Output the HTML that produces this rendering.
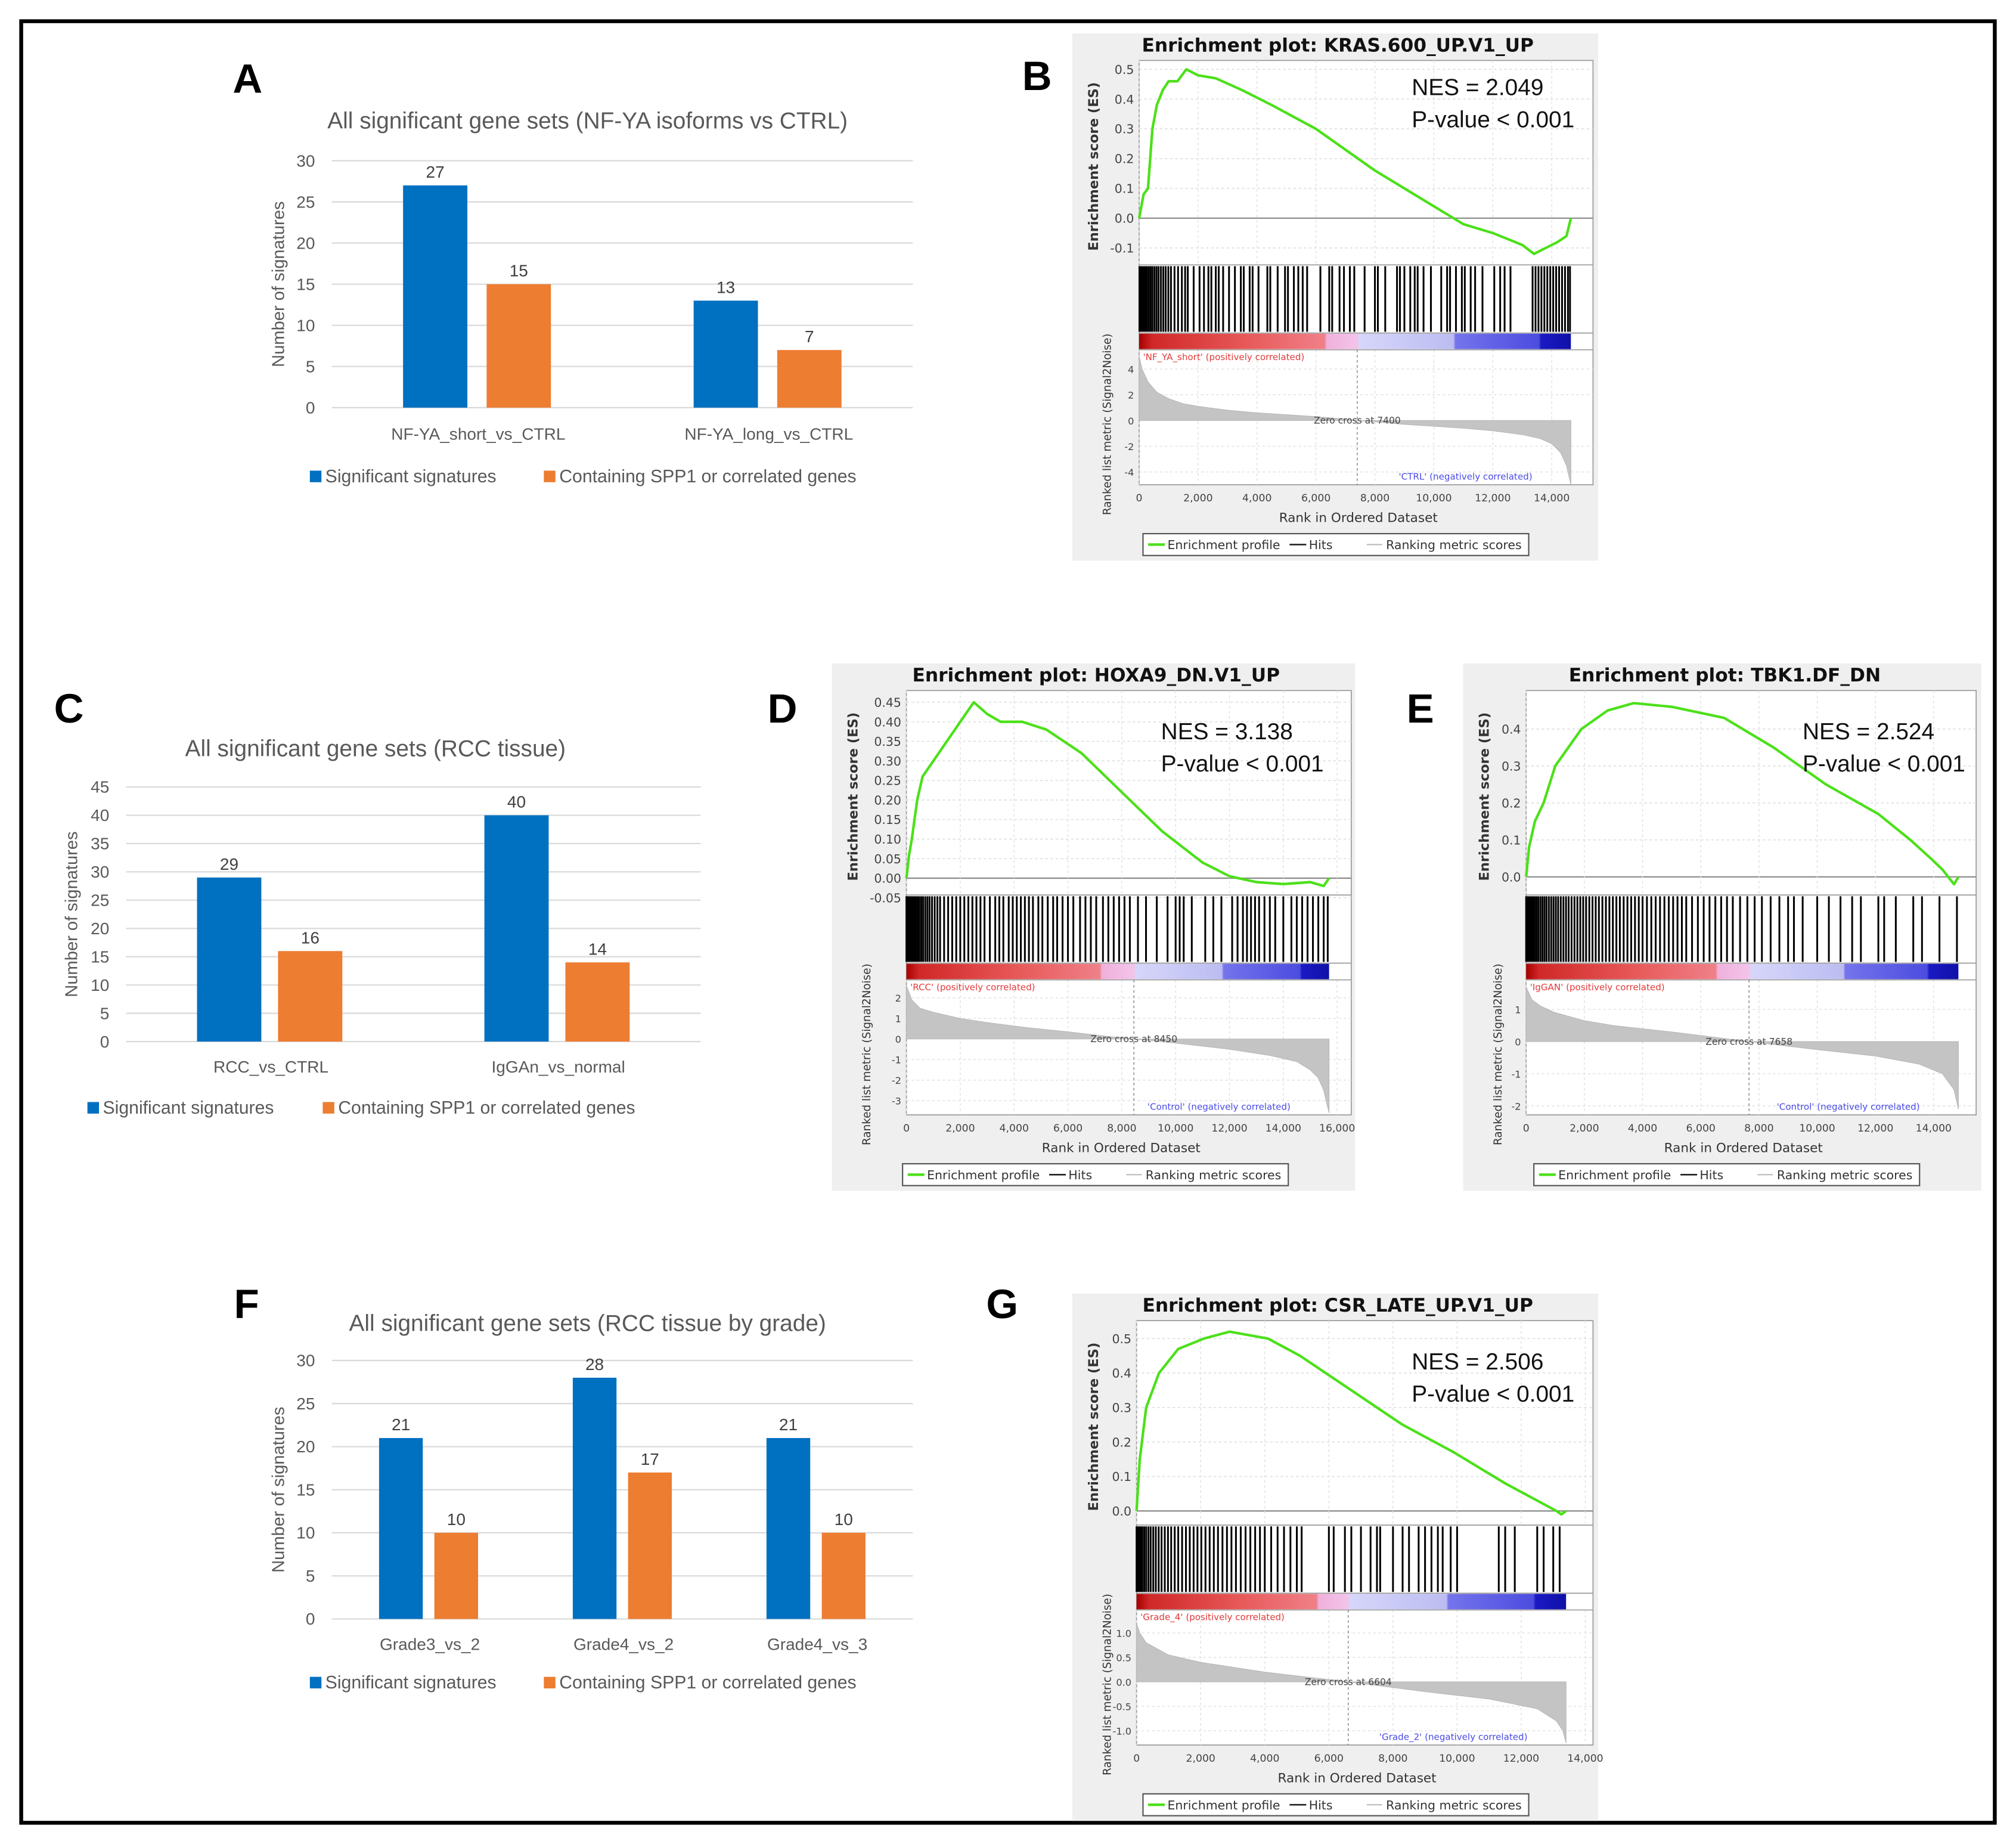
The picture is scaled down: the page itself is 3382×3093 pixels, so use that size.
<!DOCTYPE html>
<html><head><meta charset="utf-8"><style>html,body{margin:0;padding:0;background:#fff}svg{display:block}</style></head>
<body>
<svg id="fig" width="3382" height="3093" viewBox="0 0 1568 1434" preserveAspectRatio="none" xmlns="http://www.w3.org/2000/svg" font-family="'Liberation Sans', 'DejaVu Sans', sans-serif">
<rect x="0" y="0" width="1568" height="1434" fill="#fff"/>
<rect x="16.5" y="16.5" width="1535" height="1401" fill="none" stroke="#000" stroke-width="3"/>
</svg>
<script>
// ---------- Bar chart data ----------
const aCategories = ['NF-YA_short_vs_CTRL', 'NF-YA_long_vs_CTRL'];
const aSignificant = [27, 13];
const aSpp1 = [15, 7];
const aTicks = [0, 5, 10, 15, 20, 25, 30];
const cCategories = ['RCC_vs_CTRL', 'IgGAn_vs_normal'];
const cSignificant = [29, 40];
const cSpp1 = [16, 14];
const cTicks = [0, 5, 10, 15, 20, 25, 30, 35, 40, 45];
const fCategories = ['Grade3_vs_2', 'Grade4_vs_2', 'Grade4_vs_3'];
const fSignificant = [21, 28, 21];
const fSpp1 = [10, 17, 10];
const fTicks = [0, 5, 10, 15, 20, 25, 30];

// ---------- GSEA data ----------
const bEsRanks = [0,150,300,450,600,800,1000,1300,1600,2000,2600,3500,4500,6000,8000,10000,11000,12000,13000,13400,13800,14200,14500,14650];
const bEsValues = [0,0.08,0.1,0.3,0.38,0.43,0.46,0.46,0.5,0.48,0.47,0.43,0.38,0.3,0.16,0.04,-0.02,-0.05,-0.09,-0.12,-0.1,-0.08,-0.06,0];
const bHits = [10,40,80,120,170,220,270,330,390,450,520,590,660,740,820,900,990,1080,1200,1320,1450,1560,1650,1850,2050,2200,2350,2450,2600,2700,2850,3050,3250,3450,3550,3750,3850,4050,4350,4450,4700,4950,5050,5250,5400,5550,5700,6150,6450,6550,6800,6950,7150,7300,7650,8000,8100,8350,8750,8850,9000,9200,9350,9450,9650,9900,10250,10450,10550,10750,10950,11050,11250,11400,11650,12050,12250,12400,12600,13350,13450,13550,13650,13750,13850,13950,14050,14150,14250,14350,14450,14550,14620];
const bMetricRanks = [0,100,300,600,1000,1500,2000,3000,4000,5000,6000,7000,7400,8000,9000,10000,11000,12000,13000,13600,14000,14300,14500,14650];
const bMetricValues = [5,4,3,2.2,1.7,1.3,1.1,0.8,0.6,0.45,0.3,0.1,0,-0.1,-0.3,-0.45,-0.6,-0.8,-1.1,-1.4,-1.8,-2.5,-3.5,-5];
const bEsTicks = [-0.1,0,0.1,0.2,0.3,0.4,0.5];
const bMetricTicks = [-4,-2,0,2,4];
const bRankTicks = [0,2000,4000,6000,8000,10000,12000,14000];

const dEsRanks = [0,100,200,400,600,800,1200,1800,2200,2500,3000,3500,4300,5200,6500,8000,9500,11000,12000,13000,14000,15000,15500,15700];
const dEsValues = [0,0.06,0.1,0.2,0.26,0.28,0.32,0.38,0.42,0.45,0.42,0.4,0.4,0.38,0.32,0.22,0.12,0.04,0.005,-0.01,-0.015,-0.01,-0.02,0];
const dHits = [0,30,70,110,150,200,250,300,360,420,480,550,620,700,780,860,950,1050,1150,1250,1400,1550,1700,1850,2000,2150,2300,2450,2600,2750,2900,3100,3300,3450,3600,3800,3950,4100,4250,4400,4550,4700,4900,5050,5250,5450,5600,5800,6000,6200,6450,6650,6850,7050,7300,7500,7700,7900,8100,8300,8600,8900,9300,9700,10000,10150,10300,10600,11100,11400,11700,12100,12300,12500,12650,12800,12950,13100,13300,13500,13700,14000,14300,14500,14700,14900,15100,15300,15500,15650];
const dMetricRanks = [0,200,500,1000,2000,3000,4500,6000,7500,8450,10000,12000,13500,14500,15000,15300,15500,15700];
const dMetricValues = [2.6,1.9,1.5,1.3,1.0,0.8,0.55,0.35,0.12,0,-0.2,-0.5,-0.8,-1.1,-1.5,-1.9,-2.5,-3.6];
const dEsTicks = [-0.05,0,0.05,0.1,0.15,0.2,0.25,0.3,0.35,0.4,0.45];
const dMetricTicks = [-3,-2,-1,0,1,2];
const dRankTicks = [0,2000,4000,6000,8000,10000,12000,14000,16000];

const eEsRanks = [0,100,300,600,1000,1900,2800,3700,5000,6800,8500,10300,12100,13200,13900,14300,14500,14700,14850];
const eEsValues = [0,0.08,0.15,0.2,0.3,0.4,0.45,0.47,0.46,0.43,0.35,0.25,0.17,0.1,0.05,0.02,0,-0.02,0];
const eHits = [0,40,80,130,180,240,300,360,420,490,560,630,700,780,860,940,1020,1100,1190,1280,1370,1460,1560,1660,1760,1860,1960,2060,2170,2280,2390,2500,2620,2740,2860,2980,3100,3220,3350,3480,3610,3740,3870,4000,4150,4300,4450,4600,4750,4900,5050,5200,5350,5500,5700,5900,6100,6300,6500,6700,6900,7100,7350,7600,7850,8100,8400,8700,9000,9200,9500,10000,10400,10800,11200,11500,12100,12300,12700,13300,13600,14200,14800];
const eMetricRanks = [0,200,500,1000,2000,3000,5000,7658,10000,12000,13500,14300,14700,14850];
const eMetricValues = [1.7,1.3,1.1,0.9,0.65,0.5,0.3,0,-0.25,-0.45,-0.7,-1,-1.5,-2.1];
const eEsTicks = [0,0.1,0.2,0.3,0.4];
const eMetricTicks = [-2,-1,0,1];
const eRankTicks = [0,2000,4000,6000,8000,10000,12000,14000];

const gEsRanks = [0,100,300,700,1300,2100,2900,4100,5100,6700,8300,9900,11500,12500,13100,13250,13400];
const gEsValues = [0,0.15,0.3,0.4,0.47,0.5,0.52,0.5,0.45,0.35,0.25,0.17,0.08,0.03,0,-0.01,0];
const gHits = [0,40,80,130,180,240,300,370,440,520,600,690,780,880,980,1080,1190,1300,1420,1540,1660,1780,1900,2020,2150,2280,2410,2540,2680,2820,2960,3100,3250,3400,3550,3700,3850,4000,4200,4400,4600,4800,5000,5150,6000,6150,6500,6700,7000,7300,7500,7600,8000,8300,8500,8800,9000,9200,9400,9550,9800,10000,11300,11500,11800,12500,12700,13000,13200];
const gMetricRanks = [0,100,300,1000,2000,4000,6604,9000,11000,12500,13100,13300,13400];
const gMetricValues = [1.2,1.0,0.8,0.55,0.4,0.2,0,-0.2,-0.35,-0.55,-0.8,-1.0,-1.25];
const gEsTicks = [0,0.1,0.2,0.3,0.4,0.5];
const gMetricTicks = [-1,-0.5,0,0.5,1];
const gMetricTickLabels = ['-1.0','-0.5','0.0','0.5','1.0'];
const gRankTicks = [0,2000,4000,6000,8000,10000,12000,14000];

const svg = document.getElementById('fig');
const NS = 'http://www.w3.org/2000/svg';
function mk(tag, attrs, parent, text) {
  const e = document.createElementNS(NS, tag);
  for (const k in attrs) e.setAttribute(k, attrs[k]);
  if (text !== undefined) e.textContent = text;
  (parent || svg).appendChild(e);
  return e;
}
function fmtThousand(v) { return v.toString().replace(/\B(?=(\d{3})+(?!\d))/g, ','); }

function panelLabel(letter, x, y) {
  const t = mk('text', {x: x, y: y, 'font-size': 32, 'font-weight': 'bold', fill: '#000'}, svg, letter);
  
  
}

function drawBar(c) {
  const g = mk('g', {}, svg);
  
  
  const FF = "'Liberation Sans Narrow', 'Liberation Sans', sans-serif";
  const max = c.ticks[c.ticks.length - 1];
  const y = v => c.yBot - v / max * (c.yBot - c.yTop);
  const title = mk('text', {x: c.titleX, y: c.titleY, 'font-size': 18, fill: '#595959', 'text-anchor': 'middle', 'font-family': FF}, g, c.title);
  
  
  c.ticks.forEach(t => {
    const gl = mk('line', {x1: c.x0, x2: c.x1, y1: y(t), y2: y(t), stroke: '#d9d9d9', 'stroke-width': 1}, g);
    
    
    const tl = mk('text', {x: c.x0 - 13, y: y(t) + 4.5, 'font-size': 13, fill: '#595959', 'text-anchor': 'end', 'font-family': FF}, g, String(t));
    
    
  });
  const yt = mk('text', {x: 0, y: 0, 'font-size': 13.5, fill: '#595959', 'text-anchor': 'middle', transform: `translate(${c.yTitleX},${(c.yTop + c.yBot) / 2}) rotate(-90)`}, g, 'Number of signatures');
  
  
  const n = c.categories.length;
  const w = (c.x1 - c.x0) / n;
  c.categories.forEach((cat, i) => {
    const cx = c.x0 + w * (i + 0.5);
    const series = [[c.s1[i], '#0070c0', 'bar-significant', cx - c.gap / 2 - c.barW], [c.s2[i], '#ed7d31', 'bar-spp1', cx + c.gap / 2]];
    series.forEach(s => {
      const r = mk('rect', {x: s[3], y: y(s[0]), width: c.barW, height: y(0) - y(s[0]), fill: s[1]}, g);
      
      
      const lbl = mk('text', {x: s[3] + c.barW / 2, y: y(s[0]) - 6, 'font-size': 13, fill: '#404040', 'text-anchor': 'middle', 'font-family': FF}, g, String(s[0]));
      
      
    });
    const cl = mk('text', {x: cx + 1, y: c.catY, 'font-size': 13, fill: '#595959', 'text-anchor': 'middle', 'font-family': FF}, g, cat);
    
    
  });
  const l1 = mk('rect', {x: c.leg1X, y: c.legY - 9, width: 9, height: 9, fill: '#0070c0'}, g);
  
  
  const lt1 = mk('text', {x: c.leg1X + 12, y: c.legY, 'font-size': 14, fill: '#595959', 'font-family': FF}, g, 'Significant signatures');
  
  
  const l2 = mk('rect', {x: c.leg2X, y: c.legY - 9, width: 9, height: 9, fill: '#ed7d31'}, g);
  
  
  const lt2 = mk('text', {x: c.leg2X + 12, y: c.legY, 'font-size': 14, fill: '#595959', 'font-family': FF}, g, 'Containing SPP1 or correlated genes');
  
  
}

function drawGSEA(p) {
  const g = mk('g', {}, svg);
  
  
  const x0 = p.x0, y0 = p.y0;
  const bg = mk('rect', {x: x0, y: y0, width: p.w, height: 410, fill: '#efefef'}, g);
  
  
  const L = p.plotL, R = p.plotR;
  const esT = y0 + 21, esB = y0 + 180, hitB = y0 + 233, cbB = y0 + 246, mB = y0 + 351;
  const xs = r => L + r / p.rankDomain * (R - L);
  const ys = v => esT + (p.esDom[1] - v) / (p.esDom[1] - p.esDom[0]) * (esB - esT);
  const ym = v => cbB + (p.mDom[1] - v) / (p.mDom[1] - p.mDom[0]) * (mB - cbB);
  const t = mk('text', {x: x0 + p.w / 2 + 2, y: y0 + 14, 'font-size': 14.5, 'font-weight': 'bold', fill: '#111', 'text-anchor': 'middle', 'font-family': "'DejaVu Sans', sans-serif"}, g, p.title);
  
  
  const wbg = mk('rect', {x: L, y: esT, width: R - L, height: mB - esT, fill: '#fff', stroke: '#9a9a9a', 'stroke-width': 0.8}, g);
  
  
  p.esTicks.forEach(v => {
    const gl = mk('line', {x1: L, x2: R, y1: ys(v), y2: ys(v), stroke: v === 0 ? '#8a8a8a' : '#dcdcdc', 'stroke-width': v === 0 ? 1 : 0.7, 'stroke-dasharray': v === 0 ? '' : '2,2'}, g);
    
    
    const lab = mk('text', {x: L - 4, y: ys(v) + 3.5, 'font-size': 9.5, fill: '#444', 'text-anchor': 'end', 'font-family': "'DejaVu Sans', sans-serif"}, g, v.toFixed(p.esDec));
    
    
  });
  p.rankTicks.forEach(r => {
    [[esT, esB], [cbB, mB]].forEach(seg => {
      const gl = mk('line', {x1: xs(r), x2: xs(r), y1: seg[0], y2: seg[1], stroke: '#e2e2e2', 'stroke-width': 0.7, 'stroke-dasharray': '2,2'}, g);
      
      
    });
    const lab = mk('text', {x: xs(r), y: y0 + 364, 'font-size': 8, fill: '#444', 'text-anchor': 'middle', 'font-family': "'DejaVu Sans', sans-serif"}, g, fmtThousand(r));
    
    
  });
  const pts = p.esRanks.map((r, i) => xs(r).toFixed(2) + ',' + ys(p.esValues[i]).toFixed(2)).join(' ');
  const curve = mk('polyline', {points: pts, fill: 'none', stroke: '#4ce01a', 'stroke-width': 2, 'stroke-linejoin': 'round'}, g);
  
  
  [esB, hitB, cbB].forEach(yy => {
    const s = mk('line', {x1: L, x2: R, y1: yy, y2: yy, stroke: '#9a9a9a', 'stroke-width': 0.8}, g);
    
    
  });
  p.hits.forEach(h => {
    const hl = mk('line', {x1: xs(h), x2: xs(h), y1: esB + 1, y2: hitB - 1, stroke: '#000', 'stroke-width': 1.4}, g);
    
    
  });
  const z = p.zeroCross / p.rankMax;
  const gid = 'grad-' + p.name;
  const defs = mk('defs', {}, g);
  const lg = mk('linearGradient', {id: gid, x1: 0, x2: 1, y1: 0, y2: 0}, defs);
  const stops = [[0, '#a80000'], [0.03, '#d02828'], [0.5 * z, '#e85a5a'], [0.85 * z, '#ef8088'], [0.86 * z, '#f0b0dc'], [z, '#f2c4ea'], [z + 0.005, '#d6d6fa'], [z + 0.45 * (1 - z), '#bcbcf2'], [z + 0.46 * (1 - z), '#7474ec'], [z + 0.85 * (1 - z), '#4c4ce0'], [z + 0.86 * (1 - z), '#1a1ac4'], [1, '#1010a8']];
  stops.forEach(s => mk('stop', {offset: s[0], 'stop-color': s[1]}, lg));
  const cb = mk('rect', {x: L, y: hitB + 0.5, width: xs(p.rankMax) - L, height: cbB - hitB - 1, fill: `url(#${gid})`}, g);
  
  
  p.mTicks.forEach((v, i) => {
    const lab = mk('text', {x: L - 4, y: ym(v) + 3, 'font-size': 7.5, fill: '#444', 'text-anchor': 'end', 'font-family': "'DejaVu Sans', sans-serif"}, g, p.mTickLabels ? p.mTickLabels[i] : String(v));
    
    
    if (v !== 0) {
      const gl = mk('line', {x1: L, x2: R, y1: ym(v), y2: ym(v), stroke: '#e2e2e2', 'stroke-width': 0.7, 'stroke-dasharray': '2,2'}, g);
      
      
    }
  });
  let mp = xs(0).toFixed(2) + ',' + ym(0).toFixed(2) + ' ';
  mp += p.mRanks.map((r, i) => xs(r).toFixed(2) + ',' + ym(p.mValues[i]).toFixed(2)).join(' ');
  mp += ' ' + xs(p.mRanks[p.mRanks.length - 1]).toFixed(2) + ',' + ym(0).toFixed(2);
  const area = mk('polygon', {points: mp, fill: '#c4c4c4', stroke: '#b8b8b8', 'stroke-width': 0.5}, g);
  
  
  const zl = mk('line', {x1: xs(p.zeroCross), x2: xs(p.zeroCross), y1: cbB, y2: mB, stroke: '#888', 'stroke-width': 0.7, 'stroke-dasharray': '2,2'}, g);
  
  
  const zt = mk('text', {x: xs(p.zeroCross), y: ym(0) + 2.5, 'font-size': 7.2, fill: '#444', 'text-anchor': 'middle', 'font-family': "'DejaVu Sans', sans-serif"}, g, 'Zero cross at ' + p.zeroCross);
  
  
  const pl = mk('text', {x: L + 3, y: cbB + 8, 'font-size': 7, fill: '#e23a3a', 'font-family': "'DejaVu Sans', sans-serif"}, g, p.posLabel);
  
  
  const nl = mk('text', {x: xs(p.rankMax) - 30, y: mB - 4, 'font-size': 7, fill: '#4a4ae8', 'text-anchor': 'end', 'font-family': "'DejaVu Sans', sans-serif"}, g, p.negLabel);
  
  
  const t1 = mk('text', {x: 0, y: 0, 'font-size': 10.5, 'font-weight': 'bold', fill: '#333', 'text-anchor': 'middle', 'font-family': "'DejaVu Sans', sans-serif", transform: `translate(${x0 + 20},${(esT + esB) / 2 + 3}) rotate(-90)`}, g, 'Enrichment score (ES)');
  
  
  const t2 = mk('text', {x: 0, y: 0, 'font-size': 8.5, fill: '#333', 'text-anchor': 'middle', 'font-family': "'DejaVu Sans', sans-serif", transform: `translate(${x0 + 30},${y0 + 304}) rotate(-90)`}, g, 'Ranked list metric (Signal2Noise)');
  
  
  const t3 = mk('text', {x: (L + R) / 2 - 6, y: y0 + 380, 'font-size': 10, fill: '#333', 'text-anchor': 'middle', 'font-family': "'DejaVu Sans', sans-serif"}, g, 'Rank in Ordered Dataset');
  
  
  const n1 = mk('text', {x: p.nesX, y: p.nesY, 'font-size': 18, fill: '#111'}, g, 'NES = ' + p.nes);
  
  
  const n2 = mk('text', {x: p.nesX, y: p.nesY + 25, 'font-size': 18, fill: '#111'}, g, 'P-value < 0.001');
  
  
  const lx = x0 + 55, ly = y0 + 389;
  const lb = mk('rect', {x: lx, y: ly, width: 300, height: 17, fill: '#fff', stroke: '#555', 'stroke-width': 1}, g);
  
  
  const ll1 = mk('line', {x1: lx + 4, x2: lx + 17, y1: ly + 8.5, y2: ly + 8.5, stroke: '#4ce01a', 'stroke-width': 2}, g);
  
  
  const le1 = mk('text', {x: lx + 19, y: ly + 12, 'font-size': 9.5, fill: '#333', 'font-family': "'DejaVu Sans', sans-serif"}, g, 'Enrichment profile');
  
  
  const ll2 = mk('line', {x1: lx + 114, x2: lx + 127, y1: ly + 8.5, y2: ly + 8.5, stroke: '#222', 'stroke-width': 1.2}, g);
  
  
  const le2 = mk('text', {x: lx + 129, y: ly + 12, 'font-size': 9.5, fill: '#333', 'font-family': "'DejaVu Sans', sans-serif"}, g, 'Hits');
  
  
  const ll3 = mk('line', {x1: lx + 174, x2: lx + 186, y1: ly + 8.5, y2: ly + 8.5, stroke: '#bbb', 'stroke-width': 1}, g);
  
  
  const le3 = mk('text', {x: lx + 189, y: ly + 12, 'font-size': 9.5, fill: '#333', 'font-family': "'DejaVu Sans', sans-serif"}, g, 'Ranking metric scores');
  
  
}

drawBar({name: 'bar-chart-a', x0: 258, x1: 710, yTop: 125, yBot: 317, ticks: aTicks, categories: aCategories, s1: aSignificant, s2: aSpp1, barW: 50, gap: 15, title: 'All significant gene sets (NF-YA isoforms vs CTRL)', titleX: 457, titleY: 100, yTitleX: 221, catY: 342, legY: 375, leg1X: 241, leg2X: 423});
drawBar({name: 'bar-chart-c', x0: 98, x1: 545, yTop: 612, yBot: 810, ticks: cTicks, categories: cCategories, s1: cSignificant, s2: cSpp1, barW: 50, gap: 13, title: 'All significant gene sets (RCC tissue)', titleX: 292, titleY: 588, yTitleX: 60, catY: 834, legY: 866, leg1X: 68, leg2X: 251});
drawBar({name: 'bar-chart-f', x0: 258, x1: 710, yTop: 1058, yBot: 1259, ticks: fTicks, categories: fCategories, s1: fSignificant, s2: fSpp1, barW: 34, gap: 9, title: 'All significant gene sets (RCC tissue by grade)', titleX: 457, titleY: 1035, yTitleX: 221, catY: 1283, legY: 1313, leg1X: 241, leg2X: 423});

drawGSEA({name: 'gsea-b', x0: 834, y0: 26, w: 409, plotL: 886, plotR: 1239, rankDomain: 15400, rankMax: 14650, title: 'Enrichment plot: KRAS.600_UP.V1_UP', esDom: [-0.157, 0.53], esTicks: bEsTicks, esDec: 1, esRanks: bEsRanks, esValues: bEsValues, hits: bHits, rankTicks: bRankTicks, mDom: [-5, 5.5], mTicks: bMetricTicks, mRanks: bMetricRanks, mValues: bMetricValues, zeroCross: 7400, posLabel: "'NF_YA_short' (positively correlated)", negLabel: "'CTRL' (negatively correlated)", nes: '2.049', nesX: 1098, nesY: 74});
drawGSEA({name: 'gsea-d', x0: 647, y0: 516, w: 407, plotL: 705, plotR: 1051, rankDomain: 16525, rankMax: 15700, title: 'Enrichment plot: HOXA9_DN.V1_UP', esDom: [-0.043, 0.48], esTicks: dEsTicks, esDec: 2, esRanks: dEsRanks, esValues: dEsValues, hits: dHits, rankTicks: dRankTicks, mDom: [-3.69, 2.875], mTicks: dMetricTicks, mRanks: dMetricRanks, mValues: dMetricValues, zeroCross: 8450, posLabel: "'RCC' (positively correlated)", negLabel: "'Control' (negatively correlated)", nes: '3.138', nesX: 903, nesY: 575});
drawGSEA({name: 'gsea-e', x0: 1138, y0: 516, w: 403, plotL: 1187, plotR: 1537, rankDomain: 15460, rankMax: 14850, title: 'Enrichment plot: TBK1.DF_DN', esDom: [-0.049, 0.504], esTicks: eEsTicks, esDec: 1, esRanks: eEsRanks, esValues: eEsValues, hits: eHits, rankTicks: eRankTicks, mDom: [-2.28, 1.92], mTicks: eMetricTicks, mRanks: eMetricRanks, mValues: eMetricValues, zeroCross: 7658, posLabel: "'IgGAN' (positively correlated)", negLabel: "'Control' (negatively correlated)", nes: '2.524', nesX: 1402, nesY: 575});
drawGSEA({name: 'gsea-g', x0: 834, y0: 1006, w: 409, plotL: 884, plotR: 1239, rankDomain: 14240, rankMax: 13400, title: 'Enrichment plot: CSR_LATE_UP.V1_UP', esDom: [-0.041, 0.552], esTicks: gEsTicks, esDec: 1, esRanks: gEsRanks, esValues: gEsValues, hits: gHits, rankTicks: gRankTicks, mDom: [-1.29, 1.47], mTicks: gMetricTicks, mTickLabels: gMetricTickLabels, mRanks: gMetricRanks, mValues: gMetricValues, zeroCross: 6604, posLabel: "'Grade_4' (positively correlated)", negLabel: "'Grade_2' (negatively correlated)", nes: '2.506', nesX: 1098, nesY: 1065});

panelLabel('A', 181, 72);
panelLabel('B', 795, 70);
panelLabel('C', 42, 562);
panelLabel('D', 597, 562);
panelLabel('E', 1094, 562);
panelLabel('F', 182, 1025);
panelLabel('G', 767, 1025);
</script>
</body></html>
